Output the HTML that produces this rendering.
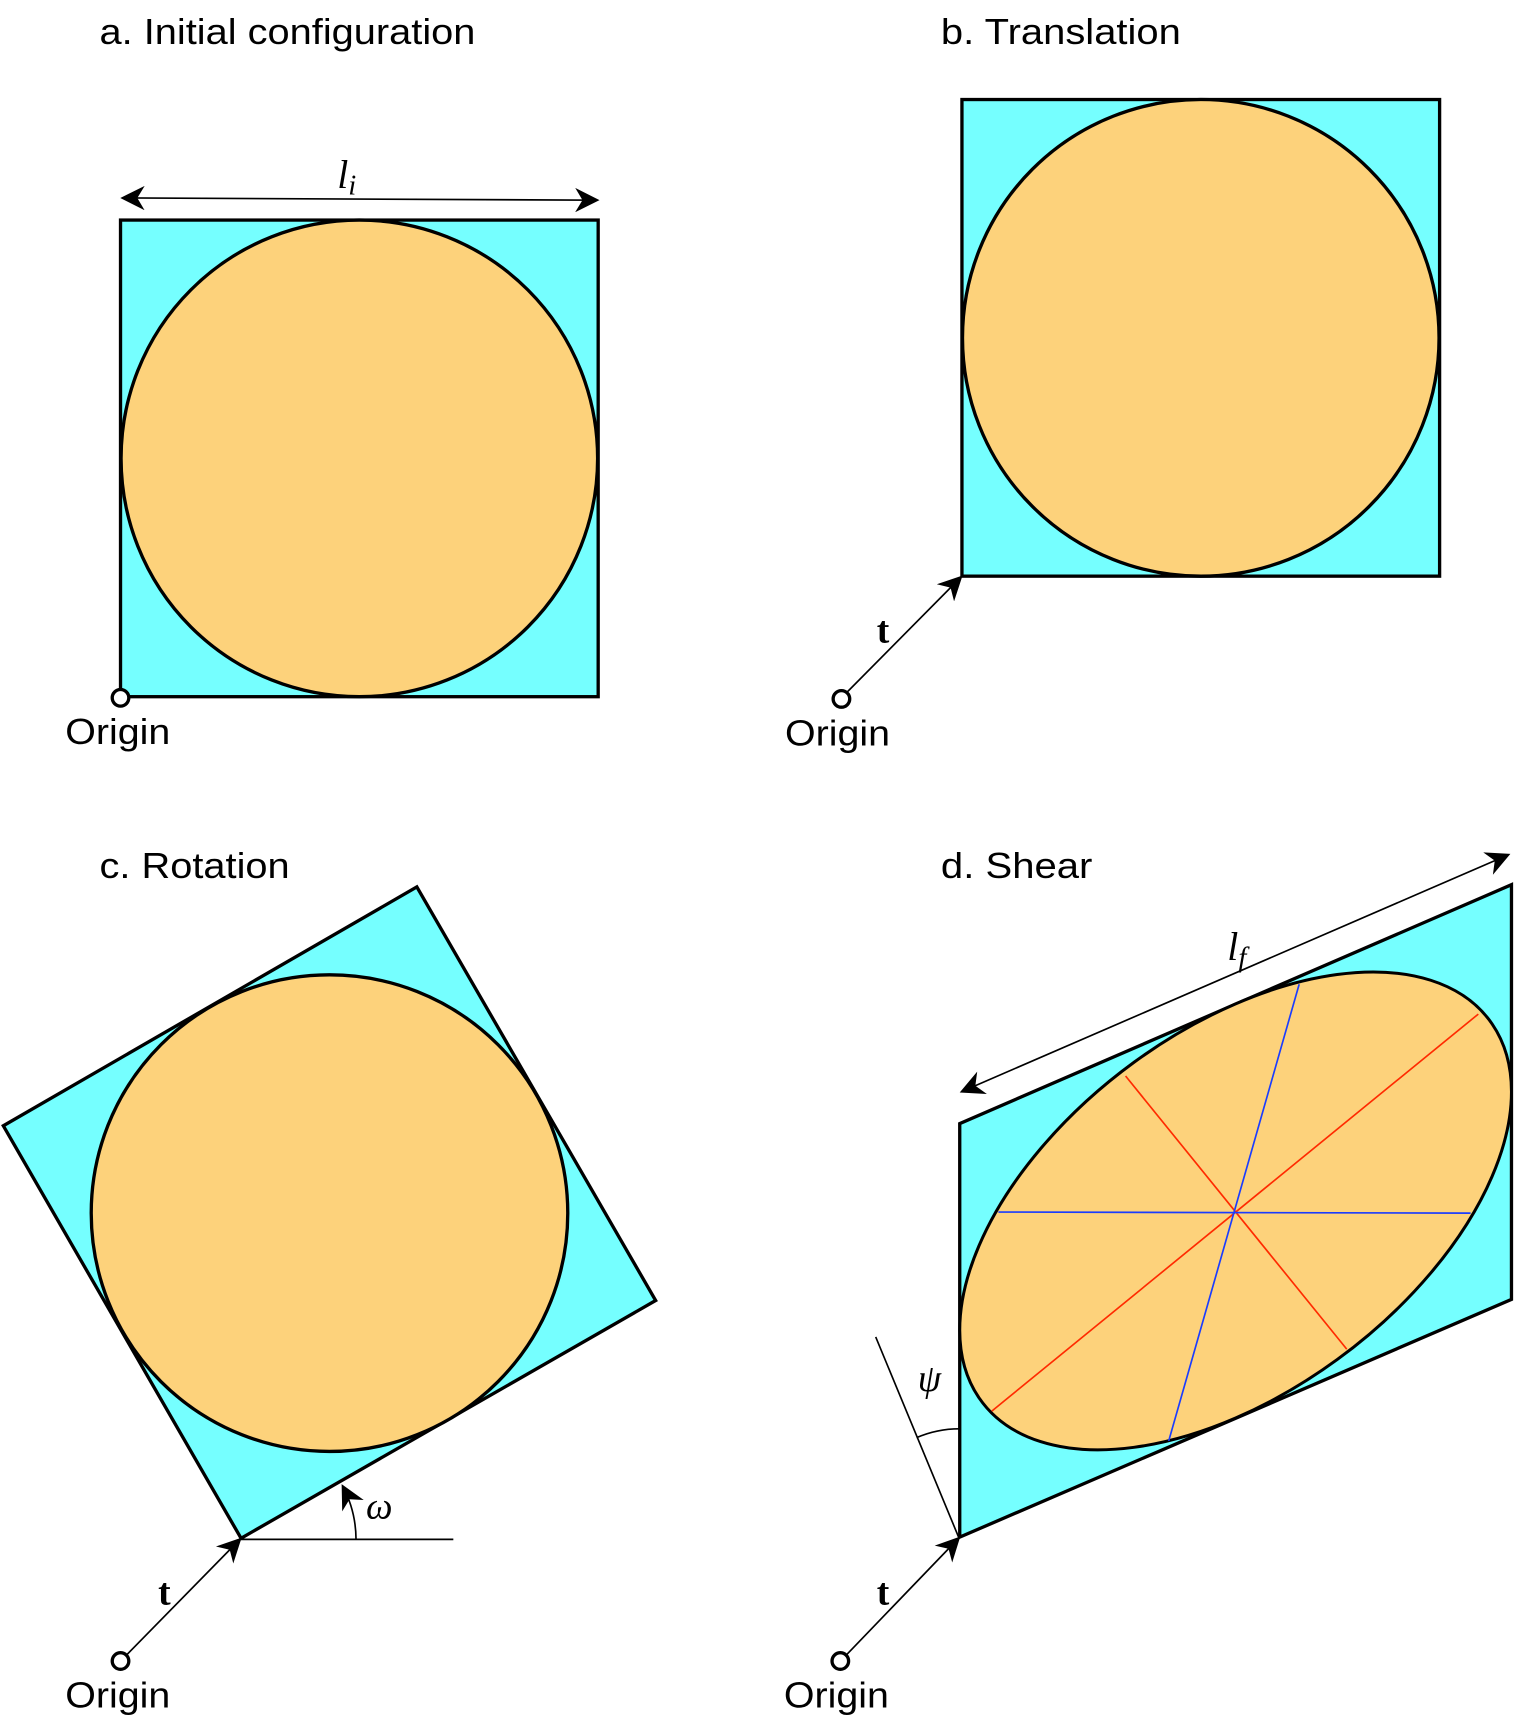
<!DOCTYPE html>
<html><head><meta charset="utf-8"><style>html,body{margin:0;padding:0;background:#fff}svg{display:block}</style></head>
<body>
<svg width="1517" height="1734" viewBox="0 0 1372 1568" preserveAspectRatio="none" xmlns="http://www.w3.org/2000/svg" font-family="Liberation Sans, sans-serif">
<defs>
<marker id="ahb" viewBox="0 0 10 10" refX="9" refY="5" markerWidth="26" markerHeight="22" markerUnits="userSpaceOnUse" orient="auto-start-reverse">
<path d="M0,0 L10,5 L0,10 L3,5 Z" fill="#000"/></marker>
</defs>
<g font-size="33" fill="#000">
<text x="90" y="40" textLength="340" lengthAdjust="spacingAndGlyphs">a. Initial configuration</text>
<text x="851" y="40" textLength="217" lengthAdjust="spacingAndGlyphs">b. Translation</text>
<text x="90" y="794" textLength="172" lengthAdjust="spacingAndGlyphs">c. Rotation</text>
<text x="851" y="794" textLength="137" lengthAdjust="spacingAndGlyphs">d. Shear</text>
</g>
<!-- Panel a -->
<g>
<rect x="109" y="199" width="432" height="431" fill="#75ffff" stroke="#000" stroke-width="3"/>
<circle cx="325" cy="414.5" r="215.5" fill="#fdd27b" stroke="#000" stroke-width="3"/>
<line x1="111" y1="179" x2="540" y2="181" stroke="#000" stroke-width="1.5" marker-start="url(#ahb)" marker-end="url(#ahb)"/>
<text x="305" y="170" font-family="Liberation Serif, serif" font-style="italic" font-size="36">l<tspan font-size="26" dy="6">i</tspan></text>
<circle cx="109" cy="631" r="7.5" fill="#fff" stroke="#000" stroke-width="3"/>
<text x="59" y="673" font-size="33" textLength="95" lengthAdjust="spacingAndGlyphs">Origin</text>
</g>
<!-- Panel b -->
<g>
<rect x="870" y="90" width="432" height="431" fill="#75ffff" stroke="#000" stroke-width="3"/>
<circle cx="1086" cy="305.5" r="215.5" fill="#fdd27b" stroke="#000" stroke-width="3"/>
<line x1="765" y1="627" x2="869" y2="522" stroke="#000" stroke-width="1.5" marker-end="url(#ahb)"/>
<text x="793" y="581" font-family="Liberation Serif, serif" font-weight="bold" font-size="34">t</text>
<circle cx="761" cy="632" r="7.5" fill="#fff" stroke="#000" stroke-width="3"/>
<text x="710" y="674" font-size="33" textLength="95" lengthAdjust="spacingAndGlyphs">Origin</text>
</g>
<!-- Panel c -->
<g>
<polygon points="218,1391 593,1176 377,802 3,1018" fill="#75ffff" stroke="#000" stroke-width="3" stroke-linejoin="miter"/>
<circle cx="298" cy="1097" r="215.5" fill="#fdd27b" stroke="#000" stroke-width="3"/>
<line x1="218" y1="1392" x2="410" y2="1392" stroke="#000" stroke-width="1.5"/>
<path d="M322,1392 A104,104 0 0 0 310,1344" fill="none" stroke="#000" stroke-width="1.5" marker-end="url(#ahb)"/>
<text x="331" y="1373" font-family="Liberation Serif, serif" font-style="italic" font-size="34">ω</text>
<line x1="114" y1="1497" x2="217" y2="1392" stroke="#000" stroke-width="1.5" marker-end="url(#ahb)"/>
<text x="143" y="1451" font-family="Liberation Serif, serif" font-weight="bold" font-size="34">t</text>
<circle cx="109" cy="1502" r="7.5" fill="#fff" stroke="#000" stroke-width="3"/>
<text x="59" y="1544" font-size="33" textLength="95" lengthAdjust="spacingAndGlyphs">Origin</text>
</g>
<!-- Panel d -->
<g>
<polygon points="868,1390 1367,1175 1367,800 868,1016" fill="#75ffff" stroke="#000" stroke-width="3"/>
<circle cx="0" cy="0" r="0.5" transform="matrix(499,-215.5,0,374.5,1117.5,1095)" fill="#fdd27b" stroke="#000" stroke-width="3" vector-effect="non-scaling-stroke"/>
<line x1="897" y1="1276" x2="1337" y2="917" stroke="#ff2a00" stroke-width="1.5"/>
<line x1="1018" y1="973" x2="1218" y2="1220" stroke="#ff2a00" stroke-width="1.5"/>
<line x1="903" y1="1096" x2="1330" y2="1097" stroke="#1a3cff" stroke-width="1.5"/>
<line x1="1175" y1="890" x2="1057" y2="1303" stroke="#1a3cff" stroke-width="1.5"/>
<line x1="870" y1="987" x2="1364" y2="773" stroke="#000" stroke-width="1.5" marker-start="url(#ahb)" marker-end="url(#ahb)"/>
<text x="1110" y="868" font-family="Liberation Serif, serif" font-style="italic" font-size="36">l<tspan font-size="26" dy="6">f</tspan></text>
<line x1="867" y1="1390" x2="792" y2="1209" stroke="#000" stroke-width="1.5"/>
<path d="M829,1300 A97,97 0 0 1 868,1292" fill="none" stroke="#000" stroke-width="1.5"/>
<text x="830" y="1258" font-family="Liberation Serif, serif" font-style="italic" font-size="34">ψ</text>
<line x1="765" y1="1497" x2="867" y2="1391" stroke="#000" stroke-width="1.5" marker-end="url(#ahb)"/>
<text x="793" y="1451" font-family="Liberation Serif, serif" font-weight="bold" font-size="34">t</text>
<circle cx="760" cy="1502" r="7.5" fill="#fff" stroke="#000" stroke-width="3"/>
<text x="709" y="1544" font-size="33" textLength="95" lengthAdjust="spacingAndGlyphs">Origin</text>
</g>
</svg>
</body></html>
